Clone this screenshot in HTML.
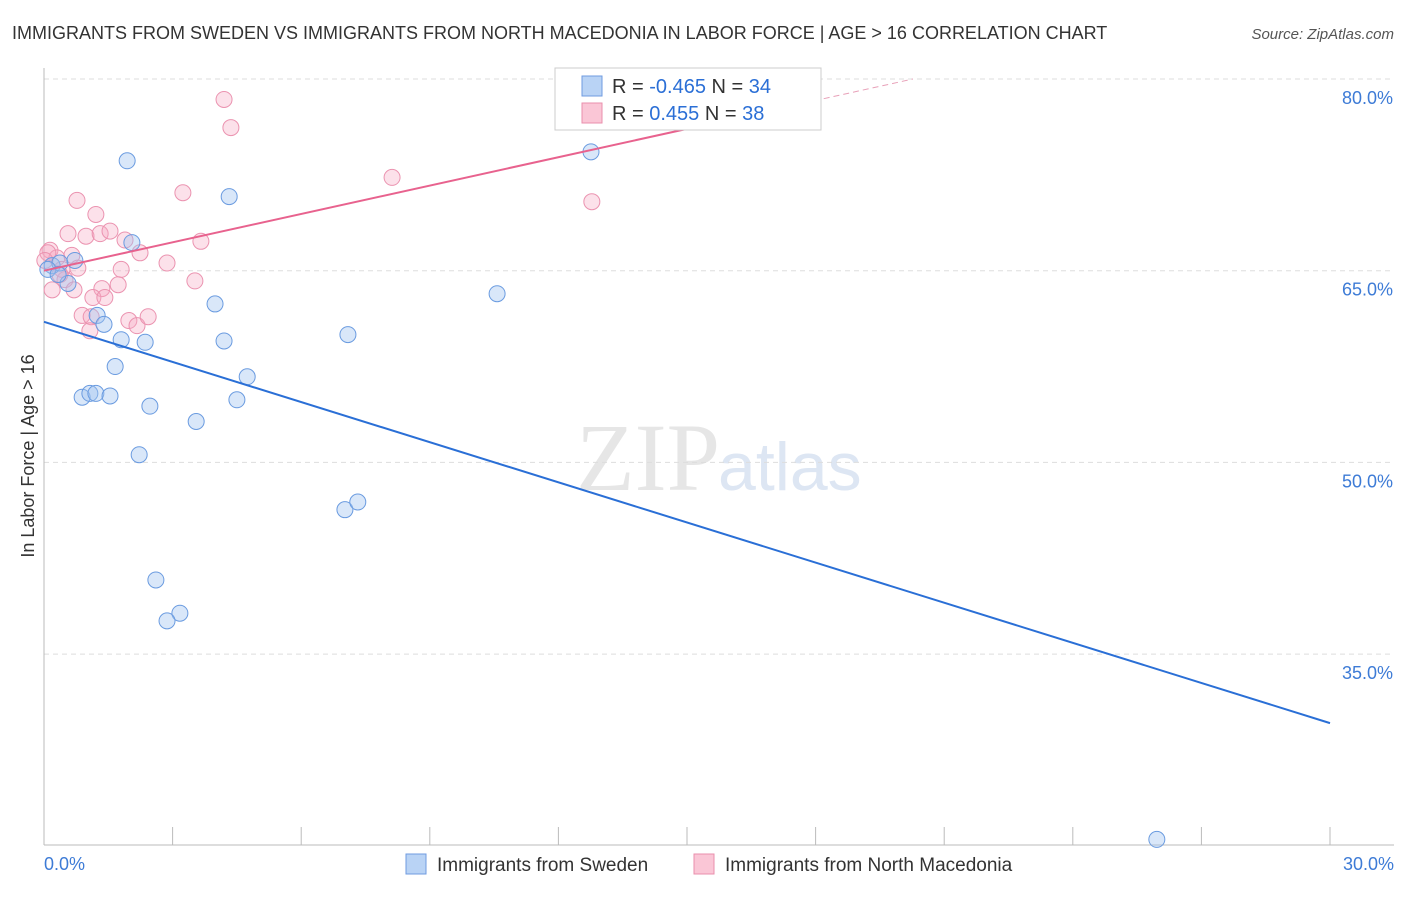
<!DOCTYPE html>
<html><head><meta charset="utf-8"><style>
body{margin:0;background:#fff;font-family:"Liberation Sans",sans-serif}
</style></head><body>
<svg id="c" width="1406" height="892" xmlns="http://www.w3.org/2000/svg" font-family="Liberation Sans, sans-serif">
<text x="12" y="39" font-size="18" fill="#333">IMMIGRANTS FROM SWEDEN VS IMMIGRANTS FROM NORTH MACEDONIA IN LABOR FORCE | AGE &gt; 16 CORRELATION CHART</text>
<text x="1394" y="39" font-size="15" fill="#555" font-style="italic" text-anchor="end">Source: ZipAtlas.com</text>
<text x="720" y="490" font-size="96" fill="#e6e6e6" text-anchor="end" font-family="Liberation Serif, serif">ZIP</text>
<text x="718" y="490" font-size="68" fill="#dde6f3">atlas</text>
<text transform="translate(34,456) rotate(-90)" font-size="18" fill="#333" text-anchor="middle">In Labor Force | Age &gt; 16</text>
<g id="grid"></g><g id="pts"></g><g id="lines"></g>
<g>
<rect x="555" y="68" width="266" height="62" fill="#fff" stroke="#ccc"/>
<rect x="582" y="76" width="20" height="20" fill="#b9d3f5" stroke="#6f9be0"/>
<rect x="582" y="103" width="20" height="20" fill="#fac6d6" stroke="#ea8fac"/>
<text x="612" y="93" font-size="20" fill="#333">R = <tspan fill="#2b6fd6">-0.465</tspan>   N = <tspan fill="#2b6fd6">34</tspan></text>
<text x="612" y="120" font-size="20" fill="#333">R =  <tspan fill="#2b6fd6"> 0.455</tspan>   N = <tspan fill="#2b6fd6">38</tspan></text>
</g>
<g>
<rect x="406" y="854" width="20" height="20" fill="#b9d3f5" stroke="#6f9be0"/>
<text x="437" y="871" font-size="19" fill="#333">Immigrants from Sweden</text>
<rect x="694" y="854" width="20" height="20" fill="#fac6d6" stroke="#ea8fac"/>
<text x="725" y="871" font-size="19" fill="#333">Immigrants from North Macedonia</text>
</g>
</svg>
<script>
const yTicks=[80,65,50,35];
const xTickLabels=["0.0%","30.0%"];
const swedenX=[1.94,12.76,4.32,2.05,0.72,0.19,0.37,0.56,3.99,10.57,1.24,1.40,7.09,1.80,2.36,4.20,1.66,4.74,0.89,1.07,1.21,1.54,2.47,4.50,3.55,2.22,7.02,7.32,2.61,3.17,2.87,25.96,0.09,0.33];
const swedenY=[73.6,74.3,70.8,67.2,65.8,65.4,65.6,64.0,62.4,63.2,61.5,60.8,60.0,59.6,59.4,59.5,57.5,56.7,55.1,55.4,55.4,55.2,54.4,54.9,53.2,50.6,46.3,46.9,40.8,38.2,37.6,20.5,65.1,64.7];
const macX=[4.20,4.36,3.24,8.12,0.77,12.78,1.21,0.56,0.98,1.31,1.54,1.89,2.24,3.66,0.65,0.14,0.30,0.79,1.80,2.87,3.52,0.49,0.19,0.70,1.73,1.35,1.14,1.42,0.89,1.10,1.98,2.17,2.43,1.07,0.09,0.42,0.02,0.37];
const macY=[78.4,76.2,71.1,72.3,70.5,70.4,69.4,67.9,67.7,67.9,68.1,67.4,66.4,67.3,66.2,66.6,66.0,65.2,65.1,65.6,64.2,64.3,63.5,63.5,63.9,63.6,62.9,62.9,61.5,61.4,61.1,60.7,61.4,60.3,66.4,65.1,65.8,64.7];
const swedenTrend=[61.0,29.6];
const macTrend=[65.0,87.2];
const NS="http://www.w3.org/2000/svg";
const X=v=>44+v*42.867, Y=v=>79+(80-v)*12.78;
function mk(t,a,p){const e=document.createElementNS(NS,t);for(const k in a)e.setAttribute(k,a[k]);p.appendChild(e);return e;}
const g=document.getElementById('grid');
yTicks.forEach(v=>{
const l=mk('line',{x1:44,x2:1394,y1:Y(v),y2:Y(v),stroke:'#ddd','stroke-dasharray':'5,4'},g);


const t=mk('text',{x:1393,y:Y(v)+25,'font-size':18,fill:'#3d7bd6','text-anchor':'end'},g);t.textContent=v.toFixed(1)+'%';


});
const ax=mk('line',{x1:44,x2:44,y1:68,y2:845,stroke:'#bbb'},g);


const bx=mk('line',{x1:44,x2:1394,y1:845,y2:845,stroke:'#bbb'},g);


for(let i=0;i<=10;i++){const t=mk('line',{x1:X(i*3),x2:X(i*3),y1:827,y2:845,stroke:'#bbb'},g);

}
[[0,'start',44],[1,'end',1394]].forEach(([i,a,x])=>{const t=mk('text',{x:x,y:870,'font-size':18,fill:'#3d7bd6','text-anchor':a},g);t.textContent=xTickLabels[i];

});
const p=document.getElementById('pts');
macX.forEach((x,i)=>{const c=mk('circle',{cx:X(x),cy:Y(macY[i]),r:8,fill:'rgba(246,170,195,0.35)',stroke:'#eb93b0','stroke-width':1},p);

});
swedenX.forEach((x,i)=>{const c=mk('circle',{cx:X(x),cy:Y(swedenY[i]),r:8,fill:'rgba(160,195,240,0.4)',stroke:'#6a9be0','stroke-width':1},p);

});
const L=document.getElementById('lines');
const bl=mk('line',{x1:X(0),y1:Y(swedenTrend[0]),x2:X(30),y2:Y(swedenTrend[1]),stroke:'#2a6fd6','stroke-width':2},L);


const mY=x=>macTrend[0]+(macTrend[1]-macTrend[0])*x/30;
const xEnd=30*(80-macTrend[0])/(macTrend[1]-macTrend[0]);
const pl=mk('line',{x1:X(0),y1:Y(mY(0)),x2:X(15),y2:Y(mY(15)),stroke:'#e8628e','stroke-width':2},L);


const pd=mk('line',{x1:X(15),y1:Y(mY(15)),x2:X(xEnd),y2:Y(mY(xEnd)),stroke:'#e8a0b8','stroke-width':1,'stroke-dasharray':'6,4'},L);


</script>
</body></html>
